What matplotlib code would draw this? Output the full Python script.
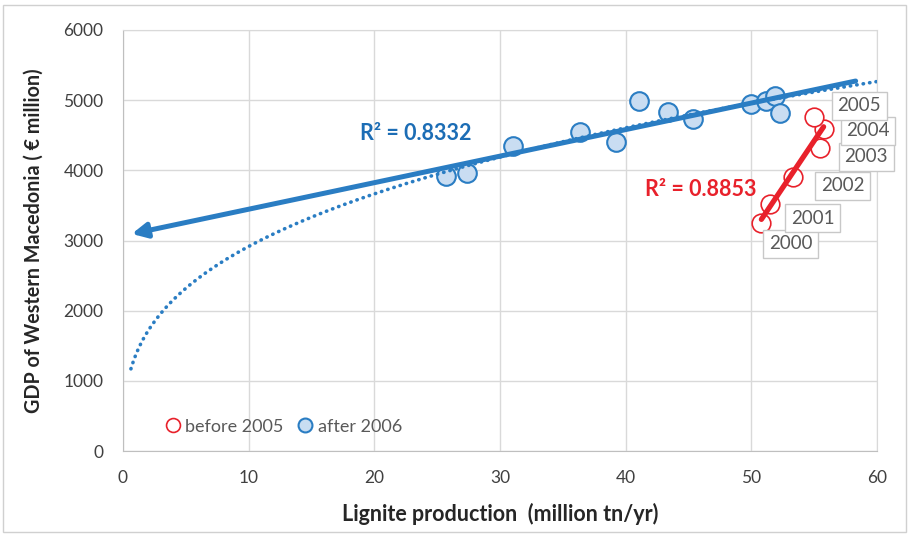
import numpy as np
import matplotlib.pyplot as plt
from matplotlib.patches import Rectangle
from matplotlib.lines import Line2D

plt.rcParams['font.family'] = ['Lato', 'DejaVu Sans']

# lignite production (million tn/yr) vs regional GDP (million EUR)
years_before = ['2000', '2001', '2002', '2003', '2004', '2005']
lignite_before = [50.8, 51.45, 53.3, 55.5, 55.75, 54.95]
gdp_before = [3252, 3518, 3899, 4312, 4582, 4762]

lignite_after = [25.7, 27.4, 31.0, 36.4, 39.2, 41.05, 43.4, 45.35, 50.0, 51.2, 51.85, 52.3]
gdp_after = [3922, 3955, 4345, 4549, 4406, 4990, 4833, 4729, 4939, 4990, 5061, 4810]

blue = '#2a7dc3'
blue_fill = '#c9ddf2'
red = '#e8212b'
grey_txt = '#595959'

fig = plt.figure(figsize=(9.09, 5.35), dpi=100)
ax = fig.add_axes([123 / 909, 1 - 451 / 535, (877 - 123) / 909, (451 - 30) / 535])

# outer chart border
fig.patches.append(Rectangle((3 / 909, 3 / 535), 903 / 909, 527 / 535, transform=fig.transFigure,
                             fill=False, edgecolor='#d0d0d0', lw=1))

xa = np.array(lignite_after)
ya = np.array(gdp_after)
xb = np.array(lignite_before)
yb = np.array(gdp_before)

ax.scatter(xa, ya, s=180, facecolor=blue_fill, edgecolor=blue, lw=1.5, zorder=3)
ax.scatter(xb, yb, s=180, facecolor='white', edgecolor=red, lw=1.2, zorder=3)

# power trend (after 2006)
pb, pa = np.polyfit(np.log(xa), np.log(ya), 1)
xp = np.linspace(0.63, 60, 300)
ax.plot(xp, np.exp(pa) * xp ** pb, color=blue, lw=2.6, ls=(0, (0.1, 1.7)),
        dash_capstyle='round', zorder=4)

# linear trend (after 2006), extended backwards with arrow
ma, ca = np.polyfit(xa, ya, 1)
x0, x1 = xa.min() - 25, xa.max() + 6
ax.annotate('', xy=(x0, ma * x0 + ca), xytext=(x1, ma * x1 + ca),
            arrowprops=dict(arrowstyle='-|>', lw=3.6, color=blue, mutation_scale=22,
                            shrinkA=0, shrinkB=0), zorder=5)

# linear trend (before 2005)
mb, cb = np.polyfit(xb, yb, 1)
xr = np.array([xb.min(), xb.max()])
ax.plot(xr, mb * xr + cb, color=red, lw=3.8, solid_capstyle='round', zorder=5)

ax.text(23.3, 4530, 'R² = 0.8332', color='#1c6db5', fontsize=15.5, fontweight='bold',
        ha='center', va='center')
ax.text(46.0, 3732, 'R² = 0.8853', color=red, fontsize=15.5, fontweight='bold',
        ha='center', va='center')

# year labels for the pre-2005 points
label_offsets = [(21, -15), (31, -10), (36, -6), (33, -6), (32, -1), (33, 8)]
for yr, x, y, off in zip(years_before, xb, yb, label_offsets):
    ax.annotate(yr, (x, y), xytext=off, textcoords='offset points', ha='center', va='center',
                fontsize=13.5, color=grey_txt, annotation_clip=False, zorder=6,
                bbox=dict(boxstyle='square,pad=0.3', fc='white', ec='#c8c8c8', lw=1))

ax.set_xlim(0, 60)
ax.set_ylim(0, 6000)
ax.set_xticks(np.arange(0, 61, 10))
ax.set_yticks(np.arange(0, 6001, 1000))
ax.grid(color='#d9d9d9', lw=1)
ax.set_axisbelow(True)
for s in ax.spines.values():
    s.set_color('#d9d9d9')
ax.spines['bottom'].set_color('#bfbfbf')
ax.spines['left'].set_color('#bfbfbf')
ax.tick_params(length=0, labelsize=12.5, labelcolor='#404040')
ax.tick_params(axis='x', pad=14)
ax.tick_params(axis='y', pad=14)

ax.set_xlabel('Lignite production  (million tn/yr)', fontsize=15.5, fontweight='bold',
              color='#262626', labelpad=12)
ax.set_ylabel('GDP of Western Macedonia ( € million)', fontsize=14.2, fontweight='bold',
              color='#262626', labelpad=14)

handles = [
    Line2D([], [], ls='', marker='o', ms=10, mfc='white', mec=red, mew=1.2),
    Line2D([], [], ls='', marker='o', ms=10, mfc=blue_fill, mec=blue, mew=1.5),
]
ax.legend(handles, ['before 2005', 'after 2006'], loc='lower left', bbox_to_anchor=(0.03, 0.0),
          ncol=2, frameon=False, fontsize=13, labelcolor=grey_txt, handletextpad=0.1,
          columnspacing=0.6, handlelength=1.2)

fig.savefig('out.png', dpi=100)
